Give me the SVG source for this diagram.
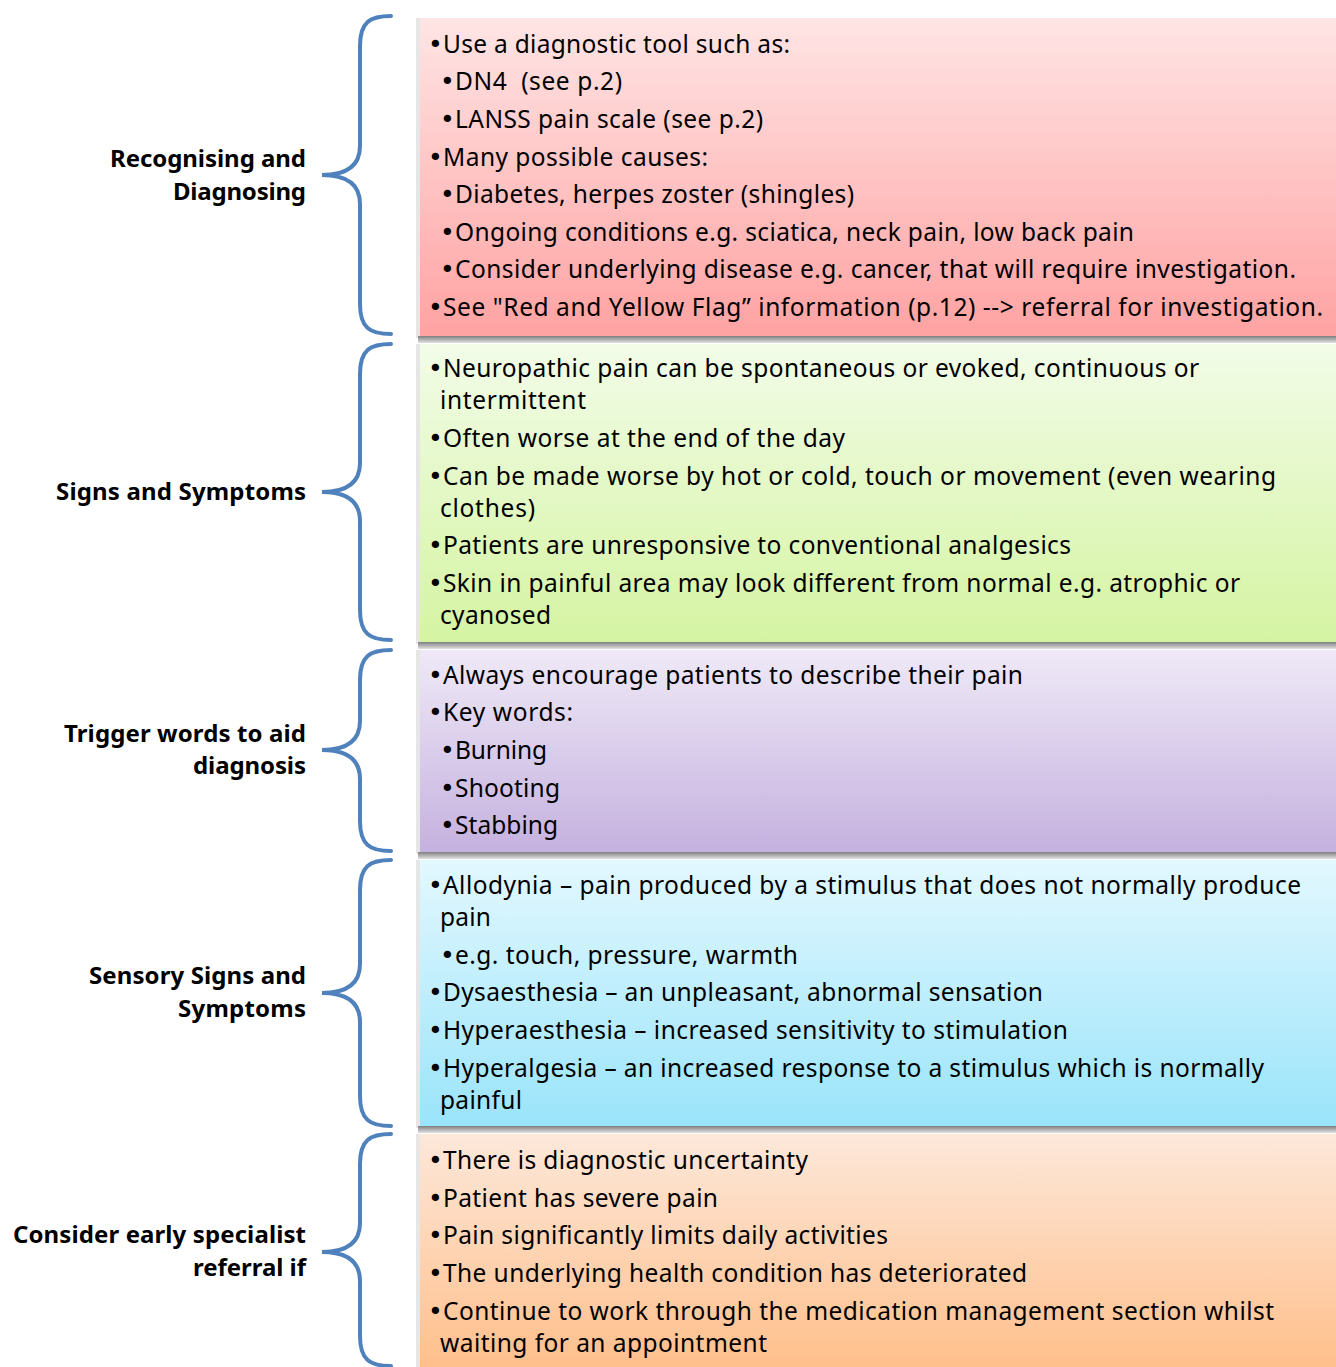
<svg xmlns="http://www.w3.org/2000/svg" width="1336" height="1367" viewBox="0 0 1336 1367">
<style>
.t{font-family:"Noto Sans","Liberation Sans",sans-serif;font-size:24.5px;fill:#000}
.b{font-family:"DejaVu Sans",sans-serif;font-size:25px;fill:#000}
.l{font-family:"Noto Sans","Liberation Sans",sans-serif;font-size:24px;font-weight:bold;fill:#000;text-anchor:end}
.brace{fill:none;stroke:#4F81BD;stroke-width:4;stroke-linecap:round}
.sh{fill:#e6e6e6}
.shb{fill:url(#gs)}
</style>
<defs>
<linearGradient id="gs" x1="0" y1="0" x2="0" y2="1"><stop offset="0" stop-color="#7f7f7f"/><stop offset="1" stop-color="#e2e2e2"/></linearGradient>
<linearGradient id="g1" x1="0" y1="0" x2="0" y2="1"><stop offset="0" stop-color="#FFE5E5"/><stop offset="1" stop-color="#FFA2A2"/></linearGradient>
<linearGradient id="g2" x1="0" y1="0" x2="0" y2="1"><stop offset="0" stop-color="#F2FCE8"/><stop offset="1" stop-color="#D5F4A2"/></linearGradient>
<linearGradient id="g3" x1="0" y1="0" x2="0" y2="1"><stop offset="0" stop-color="#EFE9F7"/><stop offset="1" stop-color="#C5B1DF"/></linearGradient>
<linearGradient id="g4" x1="0" y1="0" x2="0" y2="1"><stop offset="0" stop-color="#E3F8FF"/><stop offset="1" stop-color="#9AE4FA"/></linearGradient>
<linearGradient id="g5" x1="0" y1="0" x2="0" y2="1"><stop offset="0" stop-color="#FDE8DA"/><stop offset="1" stop-color="#FFBE89"/></linearGradient>
</defs>
<rect width="1336" height="1367" fill="#fff"/>
<g id="connectors">
<path class="brace" d="M391 16 C370 16 360 22 360 46 L360 146 C360 166 346 175 322 175 C346 175 360 184 360 204 L360 304 C360 328 370 334 391 334"/>
<path class="brace" d="M391 344 C370 344 360 350 360 374 L360 463 C360 483 346 492 322 492 C346 492 360 501 360 521 L360 610 C360 634 370 640 391 640"/>
<path class="brace" d="M391 650 C370 650 360 656 360 680 L360 721 C360 741 346 750 322 750 C346 750 360 759 360 779 L360 821 C360 845 370 851 391 851"/>
<path class="brace" d="M391 860 C370 860 360 866 360 890 L360 964 C360 984 346 993 322 993 C346 993 360 1002 360 1022 L360 1096 C360 1120 370 1126 391 1126"/>
<path class="brace" d="M391 1134 C370 1134 360 1140 360 1164 L360 1223 C360 1243 346 1252 322 1252 C346 1252 360 1261 360 1281 L360 1336 C360 1360 370 1366 391 1366"/>
</g>
<g id="node1">
<rect class="sh" x="416" y="18" width="930" height="320"/>
<rect class="shb" x="418" y="336" width="930" height="7"/>
<rect x="420" y="18" width="930" height="318" fill="url(#g1)"/>
<text class="b" x="428" y="53">•</text><text class="t" x="443" y="53" textLength="347">Use a diagnostic tool such as:</text>
<text class="b" x="440" y="90">•</text><text class="t" x="455" y="90" textLength="167">DN4&#160; (see p.2)</text>
<text class="b" x="440" y="128">•</text><text class="t" x="455" y="128" textLength="308">LANSS pain scale (see p.2)</text>
<text class="b" x="428" y="166">•</text><text class="t" x="443" y="166" textLength="265">Many possible causes:</text>
<text class="b" x="440" y="203">•</text><text class="t" x="455" y="203" textLength="399">Diabetes, herpes zoster (shingles)</text>
<text class="b" x="440" y="241">•</text><text class="t" x="455" y="241" textLength="679">Ongoing conditions e.g. sciatica, neck pain, low back pain</text>
<text class="b" x="440" y="278">•</text><text class="t" x="455" y="278" textLength="841">Consider underlying disease e.g. cancer, that will require investigation.</text>
<text class="b" x="428" y="316">•</text><text class="t" x="443" y="316" textLength="880">See "Red and Yellow Flag” information (p.12) --&gt; referral for investigation.</text>
</g>
<g id="node2">
<rect class="sh" x="416" y="344" width="930" height="300"/>
<rect class="shb" x="418" y="642" width="930" height="7"/>
<rect x="420" y="344" width="930" height="298" fill="url(#g2)"/>
<text class="b" x="428" y="377">•</text><text class="t" x="443" y="377" textLength="756">Neuropathic pain can be spontaneous or evoked, continuous or</text>
<text class="t" x="440" y="409" textLength="146">intermittent</text>
<text class="b" x="428" y="447">•</text><text class="t" x="443" y="447" textLength="402">Often worse at the end of the day</text>
<text class="b" x="428" y="485">•</text><text class="t" x="443" y="485" textLength="833">Can be made worse by hot or cold, touch or movement (even wearing</text>
<text class="t" x="440" y="517" textLength="95">clothes)</text>
<text class="b" x="428" y="554">•</text><text class="t" x="443" y="554" textLength="628">Patients are unresponsive to conventional analgesics</text>
<text class="b" x="428" y="592">•</text><text class="t" x="443" y="592" textLength="797">Skin in painful area may look different from normal e.g. atrophic or</text>
<text class="t" x="440" y="624" textLength="111">cyanosed</text>
</g>
<g id="node3">
<rect class="sh" x="416" y="650" width="930" height="204"/>
<rect class="shb" x="418" y="852" width="930" height="7"/>
<rect x="420" y="650" width="930" height="202" fill="url(#g3)"/>
<text class="b" x="428" y="684">•</text><text class="t" x="443" y="684" textLength="580">Always encourage patients to describe their pain</text>
<text class="b" x="428" y="721">•</text><text class="t" x="443" y="721" textLength="130">Key words:</text>
<text class="b" x="440" y="759">•</text><text class="t" x="455" y="759" textLength="92">Burning</text>
<text class="b" x="440" y="797">•</text><text class="t" x="455" y="797" textLength="105">Shooting</text>
<text class="b" x="440" y="834">•</text><text class="t" x="455" y="834" textLength="103">Stabbing</text>
</g>
<g id="node4">
<rect class="sh" x="416" y="860" width="930" height="268"/>
<rect class="shb" x="418" y="1126" width="930" height="7"/>
<rect x="420" y="860" width="930" height="266" fill="url(#g4)"/>
<text class="b" x="428" y="894">•</text><text class="t" x="443" y="894" textLength="858">Allodynia – pain produced by a stimulus that does not normally produce</text>
<text class="t" x="440" y="926" textLength="51">pain</text>
<text class="b" x="440" y="964">•</text><text class="t" x="455" y="964" textLength="343">e.g. touch, pressure, warmth</text>
<text class="b" x="428" y="1001">•</text><text class="t" x="443" y="1001" textLength="600">Dysaesthesia – an unpleasant, abnormal sensation</text>
<text class="b" x="428" y="1039">•</text><text class="t" x="443" y="1039" textLength="625">Hyperaesthesia – increased sensitivity to stimulation</text>
<text class="b" x="428" y="1077">•</text><text class="t" x="443" y="1077" textLength="821">Hyperalgesia – an increased response to a stimulus which is normally</text>
<text class="t" x="440" y="1109" textLength="82">painful</text>
</g>
<g id="node5">
<rect class="sh" x="416" y="1134" width="930" height="240"/>
<rect x="420" y="1134" width="930" height="240" fill="url(#g5)"/>
<text class="b" x="428" y="1169">•</text><text class="t" x="443" y="1169" textLength="365">There is diagnostic uncertainty</text>
<text class="b" x="428" y="1207">•</text><text class="t" x="443" y="1207" textLength="275">Patient has severe pain</text>
<text class="b" x="428" y="1244">•</text><text class="t" x="443" y="1244" textLength="445">Pain significantly limits daily activities</text>
<text class="b" x="428" y="1282">•</text><text class="t" x="443" y="1282" textLength="584">The underlying health condition has deteriorated</text>
<text class="b" x="428" y="1320">•</text><text class="t" x="443" y="1320" textLength="831">Continue to work through the medication management section whilst</text>
<text class="t" x="440" y="1352" textLength="327">waiting for an appointment</text>
</g>
<g id="labels">
<text class="l" x="306" y="167" textLength="196">Recognising and</text>
<text class="l" x="306" y="200" textLength="133">Diagnosing</text>
<text class="l" x="306" y="500" textLength="250">Signs and Symptoms</text>
<text class="l" x="306" y="742" textLength="242">Trigger words to aid</text>
<text class="l" x="306" y="774" textLength="113">diagnosis</text>
<text class="l" x="306" y="984" textLength="217">Sensory Signs and</text>
<text class="l" x="306" y="1017" textLength="128">Symptoms</text>
<text class="l" x="306" y="1243" textLength="293">Consider early specialist</text>
<text class="l" x="306" y="1276" textLength="113">referral if</text>
</g>
</svg>
